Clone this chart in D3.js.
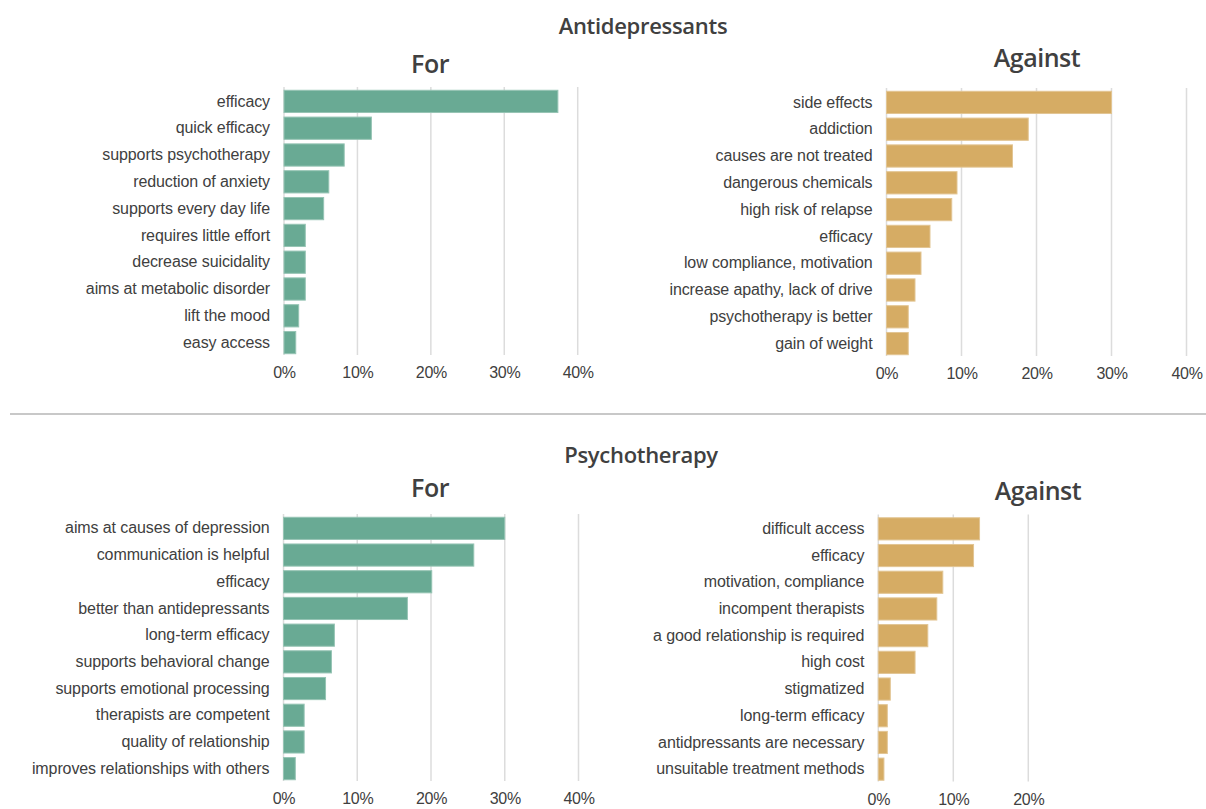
<!DOCTYPE html>
<html>
<head>
<meta charset="utf-8">
<script src="https://cdn.jsdelivr.net/npm/d3@7"></script>
<style>
  html, body { margin: 0; padding: 0; background: #fff; }
  svg { display: block; font-family: "Open Sans", "Noto Sans", sans-serif; }
</style>
</head>
<body>
<svg id="chart" width="1206" height="809"></svg>
<script>
// Antidepressants – arguments for
const adForLabels = ["efficacy", "quick efficacy", "supports psychotherapy", "reduction of anxiety",
  "supports every day life", "requires little effort", "decrease suicidality",
  "aims at metabolic disorder", "lift the mood", "easy access"];
const adForValues = [37.3, 11.9, 8.2, 6.1, 5.4, 2.9, 2.9, 2.9, 2.0, 1.6];

// Antidepressants – arguments against
const adAgainstLabels = ["side effects", "addiction", "causes are not treated", "dangerous chemicals",
  "high risk of relapse", "efficacy", "low compliance, motivation",
  "increase apathy, lack of drive", "psychotherapy is better", "gain of weight"];
const adAgainstValues = [30.0, 18.9, 16.8, 9.4, 8.7, 5.8, 4.6, 3.8, 2.9, 2.9];

// Psychotherapy – arguments for
const ptForLabels = ["aims at causes of depression", "communication is helpful", "efficacy",
  "better than antidepressants", "long-term efficacy", "supports behavioral change",
  "supports emotional processing", "therapists are competent", "quality of relationship",
  "improves relationships with others"];
const ptForValues = [30.0, 25.8, 20.1, 16.8, 6.9, 6.5, 5.7, 2.8, 2.8, 1.6];

// Psychotherapy – arguments against
const ptAgainstLabels = ["difficult access", "efficacy", "motivation, compliance", "incompent therapists",
  "a good relationship is required", "high cost", "stigmatized", "long-term efficacy",
  "antidpressants are necessary", "unsuitable treatment methods"];
const ptAgainstValues = [13.5, 12.7, 8.6, 7.8, 6.6, 4.9, 1.6, 1.2, 1.2, 0.75];

// Axis ticks (percent)
const ticksWide = [0, 10, 20, 30, 40];
const ticksNarrow = [0, 10, 20];

const COLOR_FOR = "#69aa94";
const COLOR_AGAINST = "#d6ac64";
const TEXT = "#404040";
const GRID = "#dcdcdc";

const svg = d3.select("#chart");

function panel(opts) {
  const { labels, values, ticks, color, x0, x1, y0, y1, title, titleX, titleY } = opts;
  const g = svg.append("g");

  const x = d3.scaleLinear().domain([0, d3.max(ticks)]).range([x0, x1]);
  const y = d3.scaleBand().domain(labels).range([y0, y1]).paddingInner(0.17).paddingOuter(0.085);

  // vertical gridlines
  g.selectAll("line.grid").data(ticks).join("line")
    .attr("class", "grid")
    .attr("x1", d => x(d)).attr("x2", d => x(d))
    .attr("y1", y0 - 1).attr("y2", y1 - 1)
    .attr("stroke", GRID).attr("stroke-width", 1.5);

  // bars
  g.selectAll("rect.bar").data(values).join("rect")
    .attr("class", "bar")
    .attr("x", x(0))
    .attr("y", (d, i) => y(labels[i]))
    .attr("width", d => x(d) - x(0))
    .attr("height", y.bandwidth())
    .attr("fill", color)
    .attr("stroke", d3.interpolateRgb(color, "#ffffff")(0.3))
    .attr("stroke-width", 1);

  // category labels
  const yAxis = d3.axisLeft(y).tickSize(0).tickPadding(14);
  const ya = g.append("g").attr("transform", `translate(${x(0)},0)`).call(yAxis);
  ya.select(".domain").remove();
  ya.selectAll("text")
    .attr("fill", TEXT)
    .style("font-size", "16px")
    .style("letter-spacing", "-0.1px");

  // percent tick labels
  const xAxis = d3.axisBottom(x).tickValues(ticks).tickSize(0).tickPadding(0).tickFormat(d => d + "%");
  const xa = g.append("g").attr("transform", `translate(0,${y1 + 11})`).call(xAxis);
  xa.select(".domain").remove();
  xa.selectAll("text")
    .attr("fill", TEXT)
    .style("font-size", "16px")
    .style("letter-spacing", "-0.3px");

  // sub-title
  g.append("text")
    .attr("x", titleX).attr("y", titleY)
    .attr("text-anchor", "middle")
    .attr("fill", TEXT)
    .style("font-size", "25px")
    .style("font-weight", 600)
    .style("letter-spacing", "-0.5px")
    .text(title);
}

// Section headings
function heading(text, cx, cy) {
  svg.append("text")
    .attr("x", cx).attr("y", cy)
    .attr("text-anchor", "middle")
    .attr("fill", TEXT)
    .style("font-size", "22px")
    .style("font-weight", 600)
    .style("letter-spacing", "-0.3px")
    .text(text);
}

heading("Antidepressants", 643, 34);
heading("Psychotherapy", 641, 463);

panel({ labels: adForLabels, values: adForValues, ticks: ticksWide, color: COLOR_FOR,
  x0: 284, x1: 577.7, y0: 88, y1: 356, title: "For", titleX: 430, titleY: 73 });
panel({ labels: adAgainstLabels, values: adAgainstValues, ticks: ticksWide, color: COLOR_AGAINST,
  x0: 886.5, x1: 1186.5, y0: 89, y1: 357, title: "Against", titleX: 1037, titleY: 67 });
panel({ labels: ptForLabels, values: ptForValues, ticks: ticksWide, color: COLOR_FOR,
  x0: 283.5, x1: 578.5, y0: 515, y1: 782, title: "For", titleX: 430, titleY: 497 });
panel({ labels: ptAgainstLabels, values: ptAgainstValues, ticks: ticksNarrow, color: COLOR_AGAINST,
  x0: 878.3, x1: 1028.3, y0: 515.5, y1: 782.5, title: "Against", titleX: 1038, titleY: 500 });

// divider between the two sections
svg.append("line")
  .attr("x1", 10).attr("x2", 1206)
  .attr("y1", 414).attr("y2", 414)
  .attr("stroke", "#c8c8c8").attr("stroke-width", 2);
</script>
</body>
</html>
